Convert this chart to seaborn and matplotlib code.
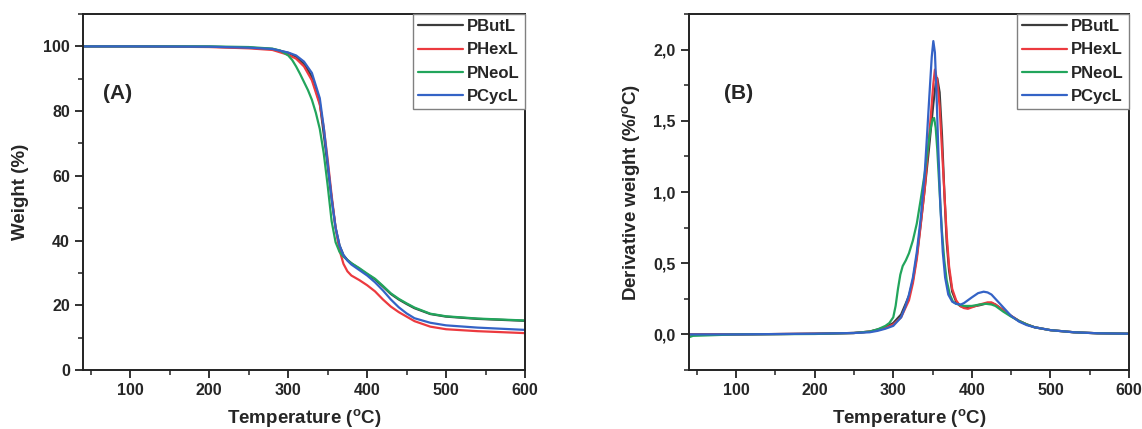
import numpy as np
import pandas as pd
import seaborn as sns
import matplotlib.pyplot as plt
from matplotlib.ticker import MultipleLocator, FixedLocator, FixedFormatter

# ---- TGA (weight %) ----
tga_T = {
    "PButL": [40, 100, 200, 250, 280, 300, 310, 320, 330, 340, 345, 350, 355, 360, 365, 370, 375, 380, 390, 400, 410, 420, 430, 440, 450, 460, 480, 500, 540, 600],
    "PHexL": [40, 100, 200, 250, 280, 300, 310, 320, 330, 340, 345, 350, 355, 360, 365, 370, 375, 380, 390, 400, 410, 420, 430, 440, 450, 460, 480, 500, 540, 600],
    "PNeoL": [40, 100, 200, 250, 280, 290, 300, 305, 310, 315, 320, 325, 330, 335, 340, 345, 350, 355, 360, 365, 370, 375, 380, 390, 400, 410, 420, 430, 440, 450, 460, 480, 500, 540, 600],
    "PCycL": [40, 100, 200, 250, 280, 300, 310, 320, 330, 340, 345, 350, 355, 360, 365, 370, 375, 380, 390, 400, 410, 420, 430, 440, 450, 460, 480, 500, 540, 600],
}
tga_W = {
    "PButL": [100, 100, 99.9, 99.6, 99.2, 98.0, 96.8, 94.6, 90.6, 82.5, 73, 63, 53, 44, 38.5, 35.5, 34.0, 33.0, 31.3, 29.6, 28.0, 25.8, 23.5, 21.8, 20.4, 19.1, 17.3, 16.5, 15.8, 15.2],
    "PHexL": [100, 100, 99.8, 99.4, 98.9, 97.4, 96.2, 93.8, 89.5, 82.0, 75, 65, 54, 44, 37, 32.8, 30.5, 29.2, 27.8, 26.2, 24.3, 21.8, 19.6, 17.9, 16.5, 15.1, 13.4, 12.6, 12.0, 11.4],
    "PNeoL": [100, 100, 100, 99.8, 99.3, 98.7, 97.2, 95.8, 93.8, 91.5, 89.0, 86.5, 83.5, 79.5, 74.5, 67, 57, 46, 39.5, 36.5, 35.0, 34.0, 33.0, 31.5, 29.8, 28.2, 26.0, 23.7, 22.0, 20.6, 19.3, 17.4, 16.6, 15.9, 15.3],
    "PCycL": [100, 100, 99.9, 99.6, 99.2, 98.1, 97.2, 95.3, 91.8, 84.0, 75, 64, 53, 44, 38.5, 35.5, 33.8, 32.6, 30.9, 29.2, 27.1, 24.6, 21.8, 19.4, 17.5, 16.0, 14.6, 13.8, 13.1, 12.4],
}

# ---- DTG (derivative weight %/oC) ----
dtg_T = {
    "PButL": [40, 100, 200, 250, 270, 280, 290, 300, 310, 320, 325, 330, 335, 340, 345, 348, 351, 354, 356, 359, 362, 365, 368, 371, 375, 380, 385, 390, 395, 400, 410, 420, 425, 430, 440, 450, 460, 470, 480, 500, 530, 560, 600],
    "PHexL": [40, 100, 200, 250, 270, 280, 290, 300, 310, 320, 325, 330, 335, 340, 345, 348, 351, 353, 356, 359, 362, 365, 368, 371, 375, 380, 385, 390, 395, 400, 410, 420, 425, 430, 440, 450, 460, 470, 480, 500, 530, 560, 600],
    "PNeoL": [40, 45, 100, 200, 250, 270, 280, 290, 295, 300, 303, 306, 309, 312, 316, 320, 325, 330, 335, 340, 344, 347, 350, 352, 354, 356, 358, 360, 362, 365, 368, 372, 376, 380, 390, 400, 410, 418, 425, 430, 440, 450, 460, 470, 480, 500, 530, 560, 600],
    "PCycL": [40, 100, 200, 250, 270, 280, 290, 300, 310, 315, 320, 325, 330, 335, 340, 343, 346, 349, 351, 353, 355, 357, 360, 363, 366, 370, 375, 380, 386, 390, 395, 400, 408, 415, 420, 425, 430, 435, 440, 445, 450, 460, 470, 480, 500, 530, 560, 600],
}
dtg_D = {
    "PButL": [0, 0, 0.005, 0.01, 0.02, 0.035, 0.05, 0.08, 0.14, 0.27, 0.38, 0.55, 0.78, 1.02, 1.28, 1.45, 1.62, 1.76, 1.80, 1.70, 1.40, 1.00, 0.65, 0.45, 0.30, 0.23, 0.20, 0.19, 0.19, 0.195, 0.205, 0.22, 0.22, 0.21, 0.17, 0.13, 0.095, 0.07, 0.05, 0.03, 0.015, 0.008, 0.005],
    "PHexL": [0, 0, 0.005, 0.01, 0.02, 0.03, 0.045, 0.07, 0.12, 0.24, 0.36, 0.53, 0.77, 1.02, 1.35, 1.55, 1.76, 1.86, 1.78, 1.60, 1.30, 1.00, 0.70, 0.48, 0.32, 0.24, 0.20, 0.185, 0.18, 0.19, 0.21, 0.225, 0.225, 0.21, 0.17, 0.13, 0.095, 0.07, 0.05, 0.03, 0.015, 0.008, 0.005],
    "PNeoL": [-0.02, -0.01, 0, 0.003, 0.01, 0.02, 0.035, 0.06, 0.08, 0.12, 0.2, 0.32, 0.42, 0.48, 0.52, 0.57, 0.66, 0.78, 0.95, 1.13, 1.30, 1.43, 1.51, 1.52, 1.45, 1.30, 1.10, 0.90, 0.72, 0.52, 0.38, 0.28, 0.23, 0.215, 0.20, 0.20, 0.21, 0.215, 0.21, 0.20, 0.16, 0.125, 0.095, 0.07, 0.05, 0.03, 0.015, 0.008, 0.005],
    "PCycL": [0, 0, 0.005, 0.01, 0.015, 0.025, 0.04, 0.06, 0.12, 0.19, 0.28, 0.40, 0.58, 0.82, 1.13, 1.40, 1.68, 1.95, 2.06, 1.98, 1.70, 1.35, 0.90, 0.58, 0.40, 0.28, 0.23, 0.215, 0.21, 0.22, 0.24, 0.26, 0.29, 0.30, 0.295, 0.28, 0.25, 0.22, 0.19, 0.16, 0.13, 0.09, 0.065, 0.05, 0.03, 0.015, 0.008, 0.005],
}

samples = ["PButL", "PHexL", "PNeoL", "PCycL"]
colors = {"PButL": "#3c3c3c", "PHexL": "#ec3a3f", "PNeoL": "#22a55c", "PCycL": "#3463c6"}

dtg_ticks = [0.0, 0.5, 1.0, 1.5, 2.0]
dtg_ticklabels = ["0,0", "0,5", "1,0", "1,5", "2,0"]

df_tga = pd.concat([pd.DataFrame({"T": tga_T[s], "val": tga_W[s], "sample": s}) for s in samples])
df_dtg = pd.concat([pd.DataFrame({"T": dtg_T[s], "val": dtg_D[s], "sample": s}) for s in samples])

sns.set_style("ticks")
plt.rcParams['font.family'] = ['Liberation Sans', 'DejaVu Sans']
plt.rcParams['font.weight'] = 'bold'
plt.rcParams['mathtext.fontset'] = 'custom'
plt.rcParams['mathtext.bf'] = 'Liberation Sans:bold'
plt.rcParams['mathtext.rm'] = 'Liberation Sans:bold'

fig = plt.figure(figsize=(11.42, 4.29), dpi=100)
ax1 = fig.add_axes([0.0727, 0.1375, 0.387, 0.8298])
ax2 = fig.add_axes([0.6033, 0.1375, 0.3853, 0.8298])

for ax, df in [(ax1, df_tga), (ax2, df_dtg)]:
    sns.lineplot(data=df, x="T", y="val", hue="sample", hue_order=samples, palette=colors,
                 estimator=None, sort=False, linewidth=1.6, ax=ax)
    old = ax.get_legend()
    handles = old.legend_handles
    labels = [t.get_text() for t in old.get_texts()]
    old.remove()
    leg = ax.legend(handles, labels, loc="upper right", borderaxespad=0, fancybox=False,
                    framealpha=1, edgecolor="#808080", prop={"weight": "bold", "size": 12},
                    handlelength=2.7, handletextpad=0.25, labelspacing=0.5, borderpad=0.3)
    leg.get_frame().set_linewidth(1.0)
    ax.set_xlim(40, 600)
    ax.xaxis.set_major_locator(FixedLocator([100, 200, 300, 400, 500, 600]))
    ax.xaxis.set_minor_locator(MultipleLocator(50))
    for sp in ax.spines.values():
        sp.set_visible(True)
        sp.set_linewidth(1.4)
        sp.set_color("#222222")
    ax.tick_params(which="major", direction="out", length=6, width=1.3, labelsize=11.5,
                   top=False, right=False, color="#222222")
    ax.tick_params(which="minor", direction="out", length=3.5, width=1.1,
                   top=False, right=False, color="#222222")
    ax.set_xlabel(r"Temperature ($\mathbf{^o}$C)", fontsize=13.5, fontweight="bold", labelpad=6.5)

ax1.set_ylim(0, 110)
ax1.yaxis.set_major_locator(FixedLocator([0, 20, 40, 60, 80, 100]))
ax1.yaxis.set_minor_locator(MultipleLocator(10))
ax1.set_ylabel("Weight (%)", fontsize=13.5, fontweight="bold", labelpad=10)
ax1.text(0.045, 0.778, "(A)", transform=ax1.transAxes, fontsize=15, fontweight="bold", va="center")

ax2.set_ylim(-0.25, 2.25)
ax2.yaxis.set_major_locator(FixedLocator(dtg_ticks))
ax2.yaxis.set_major_formatter(FixedFormatter(dtg_ticklabels))
ax2.yaxis.set_minor_locator(MultipleLocator(0.25))
ax2.set_ylabel(r"Derivative weight (%/$\mathbf{^o}$C)", fontsize=13.5, fontweight="bold", labelpad=8)
ax2.text(0.08, 0.778, "(B)", transform=ax2.transAxes, fontsize=15, fontweight="bold", va="center")
for ax in (ax1, ax2):
    for lbl in ax.get_xticklabels() + ax.get_yticklabels():
        lbl.set_fontweight("bold")

fig.savefig("out.png", dpi=100)
